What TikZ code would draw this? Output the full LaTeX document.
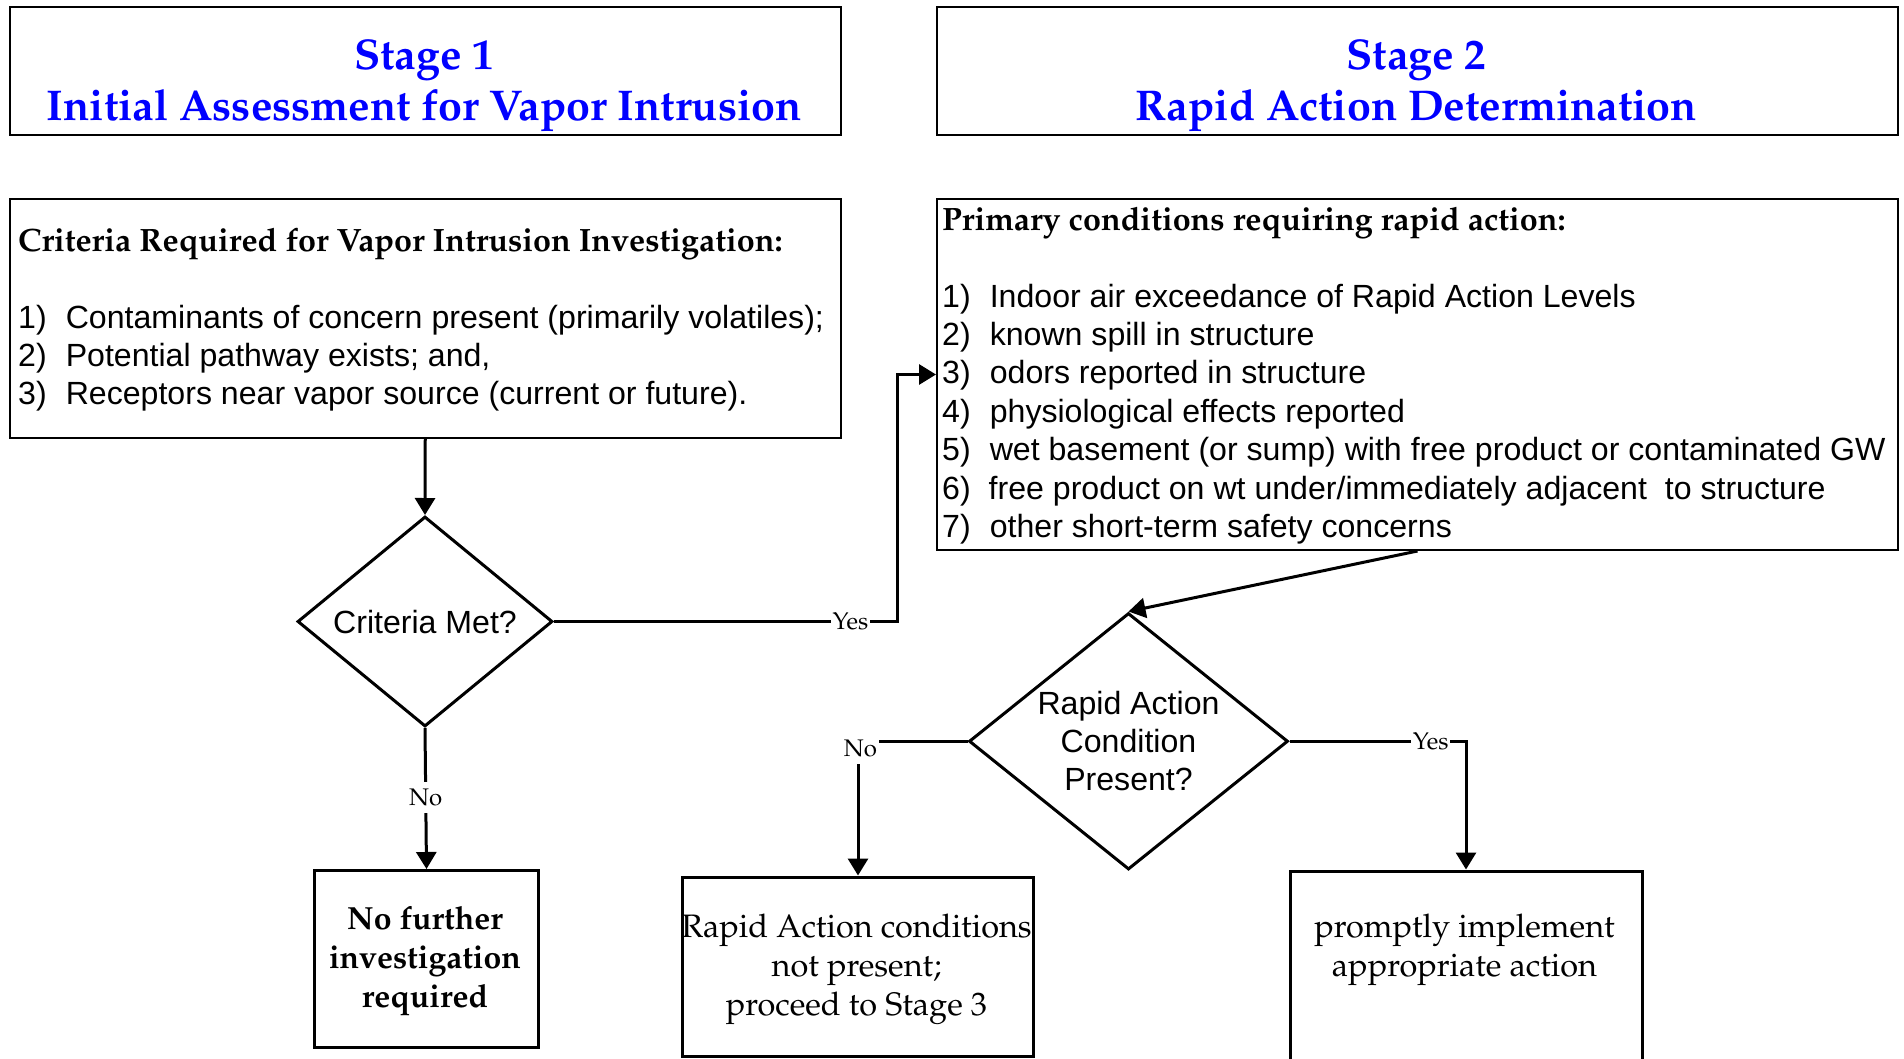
\documentclass[tikz,border=0pt]{standalone}
\usepackage[T1]{fontenc}
\usepackage{fontspec}
\setsansfont{Liberation Sans}
\usetikzlibrary{arrows.meta,shapes.geometric}
\newcommand\palfont{\fontencoding{T1}\fontfamily{ppl}\selectfont}
\definecolor{titleblue}{RGB}{0,0,255}
\tikzset{
  boxthin/.style={draw, rectangle, line width=2pt, inner sep=0pt, anchor=north west},
  boxthick/.style={draw, rectangle, line width=3pt, inner sep=0pt, anchor=north west},
  decision/.style={draw, diamond, line width=3pt, inner sep=0pt},
  conn/.style={line width=3pt, -{Triangle[length=17pt,width=20pt]}},
  lbl/.style={fill=white, inner xsep=2pt, inner ysep=7pt, font=\palfont\fontsize{24}{28}\selectfont},
  titletxt/.style={inner sep=0pt, anchor=base, text=titleblue, font=\palfont\bfseries\fontsize{43}{50}\selectfont},
  headtxt/.style={inner sep=0pt, anchor=base west, font=\palfont\bfseries\fontsize{32.3}{38}\selectfont},
  sanstxt/.style={inner sep=0pt, anchor=base west, font=\sffamily\fontsize{32.1}{38.4}\selectfont},
  sansc/.style={inner sep=0pt, anchor=base, font=\sffamily\fontsize{32.1}{38.4}\selectfont},
  boldc/.style={inner sep=0pt, anchor=base, font=\palfont\bfseries\fontsize{32}{39}\selectfont},
  serifc/.style={inner sep=0pt, anchor=base, font=\palfont\fontsize{32.5}{39}\selectfont},
}
\begin{document}
\begin{tikzpicture}[x=1pt,y=-1pt]
\useasboundingbox (0,0) rectangle (1904,1058);
\clip (0,0) rectangle (1904,1058);
\fill[white] (0,0) rectangle (1904,1058);

% title boxes
\node[boxthin, minimum width=831.5pt, minimum height=128pt] (s1) at (8.5,6) {};
\node[titletxt] (s1a) at (424.25,69) {Stage 1};
\node[titletxt] (s1b) at (424.25,120) {Initial Assessment for Vapor Intrusion};

\node[boxthin, minimum width=961pt, minimum height=128pt] (s2) at (936,6) {};
\node[titletxt] (s2a) at (1416.5,69) {Stage 2};
\node[titletxt] (s2b) at (1416.5,120) {Rapid Action Determination};

% criteria box
\node[boxthin, minimum width=831.5pt, minimum height=239pt] (crit) at (8.5,198) {};
\node[headtxt] (crith) at (18,251) {Criteria Required for Vapor Intrusion Investigation:};
\node[sanstxt] (c1n) at (18,328) {1)};
\node[sanstxt] (c1) at (65.6,328) {Contaminants of concern present (primarily volatiles);};
\node[sanstxt] (c2n) at (18,366.4) {2)};
\node[sanstxt] (c2) at (65.6,366.4) {Potential pathway exists; and,};
\node[sanstxt] (c3n) at (18,404.8) {3)};
\node[sanstxt] (c3) at (65.6,404.8) {Receptors near vapor source (current or future).};

% primary conditions box
\node[boxthin, minimum width=961pt, minimum height=351pt] (prim) at (936,198) {};
\node[headtxt] (primh) at (942,230) {Primary conditions requiring rapid action:};
\node[sanstxt] (p1n) at (942,307) {1)};
\node[sanstxt] (p1) at (989.6,307) {Indoor air exceedance of Rapid Action Levels};
\node[sanstxt] (p2n) at (942,345.4) {2)};
\node[sanstxt] (p2) at (989.6,345.4) {known spill in structure};
\node[sanstxt] (p3n) at (942,383.8) {3)};
\node[sanstxt] (p3) at (989.6,383.8) {odors reported in structure};
\node[sanstxt] (p4n) at (942,422.2) {4)};
\node[sanstxt] (p4) at (989.6,422.2) {physiological effects reported};
\node[sanstxt] (p5n) at (942,460.6) {5)};
\node[sanstxt] (p5) at (989.6,460.6) {wet basement (or sump) with free product or contaminated GW};
\node[sanstxt] (p6n) at (942,499) {6)};
\node[sanstxt] (p6) at (988.5,499) {free product on wt under/immediately adjacent\ \ to structure};
\node[sanstxt] (p7n) at (942,537.4) {7)};
\node[sanstxt] (p7) at (989.6,537.4) {other short-term safety concerns};

% decision 1
\node[decision, minimum width=255pt, minimum height=210pt] (d1) at (425,621.5) {};
\node[sansc] (d1t) at (425,633.5) {Criteria Met?};

% no further box
\node[boxthick, minimum width=224pt, minimum height=176.5pt] (nof) at (313,869) {};
\node[boldc] (nof1) at (425,929) {No further};
\node[boldc] (nof2) at (425,968) {investigation};
\node[boldc] (nof3) at (425,1007) {required};

% decision 2
\node[decision, minimum width=319pt, minimum height=256.5pt] (d2) at (1128.5,741.25) {};
\node[sansc] (d2a) at (1128.5,714) {Rapid Action};
\node[sansc] (d2b) at (1128.5,752.4) {Condition};
\node[sansc] (d2c) at (1128.5,790.8) {Present?};

% rapid action not present box
\node[boxthick, minimum width=351pt, minimum height=179.5pt] (ra) at (681,875.5) {};
\node[serifc] (ra1) at (856.5,937.5) {Rapid Action conditions};
\node[serifc] (ra2) at (856.5,976.5) {not present;};
\node[serifc] (ra3) at (856.5,1015) {proceed to Stage 3};

% promptly implement box
\node[boxthick, minimum width=352pt, minimum height=220pt] (pr) at (1288.5,869.5) {};
\node[serifc] (pr1) at (1464.5,937.5) {promptly implement};
\node[serifc] (pr2) at (1464.5,976.5) {appropriate action};

% connectors
\draw[conn] (crit.south) -- (d1.north);
\draw[conn] (d1.east) -- node[lbl, pos=0.863] {Yes} ++(343.5,0) |- (prim.west);
\draw[conn] (d1.south) -- node[lbl, pos=0.49] {No} (nof.north);
\draw[conn] (prim.south) -- (d2.north);
\draw[conn] (d2.west) -| node[lbl, pos=0.5, xshift=2.5pt, yshift=-7pt] {No} (ra.north);
\draw[conn] (d2.east) -| node[lbl, pos=0.40] {Yes} (pr.north);
\end{tikzpicture}
\end{document}
